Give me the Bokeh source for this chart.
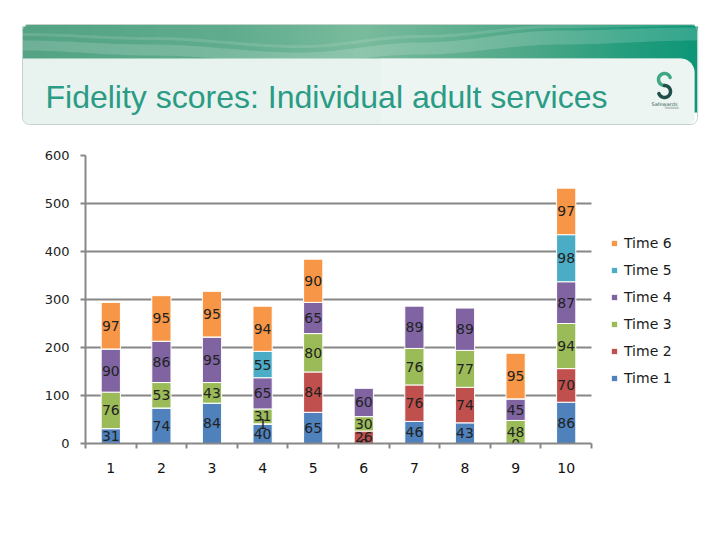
import numpy as np
from bokeh.plotting import figure
from bokeh.models import Range1d, FixedTicker, Legend, LegendItem, ColumnDataSource
from bokeh.core.properties import value
from bokeh.embed import file_html
from bokeh.resources import INLINE

# ---------------- data ----------------
categories = ["1", "2", "3", "4", "5", "6", "7", "8", "9", "10"]
series_names = ["Time 1", "Time 2", "Time 3", "Time 4", "Time 5", "Time 6"]
time1 = [31, 74, 84, 40, 65, 0, 46, 43, 0, 86]
time2 = [None, None, None, 1, 84, 26, 76, 74, None, 70]
time3 = [76, 53, 43, 31, 80, 30, 76, 77, 48, 94]
time4 = [90, 86, 95, 65, 65, 60, 89, 89, 45, 87]
time5 = [None, None, None, 55, None, None, None, None, None, 98]
time6 = [97, 95, 95, 94, 90, None, None, None, 95, 97]
y_ticks = [0, 100, 200, 300, 400, 500, 600]
colors = ["#4F81BD", "#C0504D", "#9BBB59", "#8064A2", "#4BACC6", "#F79646"]
title_text = "Fidelity scores: Individual adult services"

series = [time1, time2, time3, time4, time5, time6]

W = 712
HH = 135
# ---------------- header ----------------
h = figure(width=W, height=HH, x_range=Range1d(0, W), y_range=Range1d(HH, 0),
           output_backend="svg", toolbar_location=None, min_border=0)
h.axis.visible = False
h.grid.visible = False
h.outline_line_color = None
h.background_fill_color = "white"
h.border_fill_color = "white"


def rrect(x0, y0, x1, y1, rtl, rtr, rbr, rbl, n=12):
    xs, ys = [], []
    def corner(cx, cy, r, a0, a1):
        for t in np.linspace(np.radians(a0), np.radians(a1), n):
            xs.append(cx + r * np.cos(t))
            ys.append(cy + r * np.sin(t))
    corner(x0 + rtl, y0 + rtl, rtl, 180, 270)
    corner(x1 - rtr, y0 + rtr, rtr, 270, 360)
    corner(x1 - rbr, y1 - rbr, rbr, 0, 90)
    corner(x0 + rbl, y1 - rbl, rbl, 90, 180)
    return xs, ys


BX0, BY0, BX1, BY1, BR = 22, 24, 697, 124, 6
stops_t = [0.0, 0.3, 0.5, 0.75, 0.88, 1.0]
stops_c = [(84, 163, 133), (96, 172, 142), (122, 187, 157), (78, 168, 136), (40, 158, 126), (12, 150, 120)]
step = 3
lefts = np.arange(BX0, BX1, step)
qc, ql, qr, qt, qb = [], [], [], [], []
for xl in lefts:
    xr = min(xl + step, BX1)
    t = (xl - BX0) / (BX1 - BX0)
    rgb = [int(np.interp(t, stops_t, [c[i] for c in stops_c])) for i in range(3)]
    xm = (xl + xr) / 2
    top = BY0
    if xm < BX0 + BR:
        dx = BX0 + BR - xm
        top = BY0 + BR - np.sqrt(max(BR * BR - dx * dx, 0))
    if xm > BX1 - BR:
        dx = xm - (BX1 - BR)
        top = BY0 + BR - np.sqrt(max(BR * BR - dx * dx, 0))
    ql.append(xl); qr.append(xr + 0.6); qt.append(top); qb.append(112)
    qc.append("#%02x%02x%02x" % tuple(rgb))
h.quad(left=ql, right=qr, top=qt, bottom=qb, fill_color=qc, line_color=None)

wx = np.linspace(BX0, BX1, 120)
up_x = [22, 150, 300, 420, 560, 697]
up_y = [40, 44, 52, 42, 30, 27]
lo_y = [50, 55, 62, 54, 44, 40]


def smooth(xp, yp, x):
    out = np.zeros_like(x)
    for i, xv in enumerate(x):
        j = min(np.searchsorted(xp, xv) - 1, len(xp) - 2)
        j = max(j, 0)
        u = (xv - xp[j]) / (xp[j + 1] - xp[j])
        u = (1 - np.cos(np.pi * u)) / 2
        out[i] = yp[j] * (1 - u) + yp[j + 1] * u
    return out


wu = smooth(up_x, up_y, wx)
wl = smooth(up_x, lo_y, wx)
h.patch(list(wx) + list(wx[::-1]), list(wu) + list(wl[::-1]),
        fill_color="white", fill_alpha=0.16, line_color=None)
h.line(list(wx), list(smooth(up_x, [34, 38, 46, 36, 26, 24], wx)),
       line_color="white", line_alpha=0.12, line_width=3)

px, py = rrect(BX0, 58, 694, BY1, 0.01, 14, 7, 7)
h.patch(px, py, fill_color="#E8F3EF", line_color=None)
px2, py2 = rrect(380, 58, 694, BY1, 0.01, 14, 7, 0.01)
h.patch(px2, py2, fill_color="#EEF7F3", fill_alpha=0.6, line_color=None)

ox, oy = rrect(BX0, BY0, BX1, BY1, BR, BR, 7, 7)
h.patch(ox, oy, fill_color=None, line_color="#C3D1CB", line_width=1)

h.text(x=[45], y=[96], text=[title_text], text_font=value("Liberation Sans"),
       text_font_size="32px", text_color="#2A9B84", text_baseline="alphabetic",
       text_align="left")

cx, r = 664.0, 6.0
t1 = np.radians(np.linspace(20, 270, 40))
h.line(cx + r * np.cos(t1), 79.0 - r * np.sin(t1), line_color="#3FA783", line_width=3.5, line_cap="round")
t2 = np.radians(np.linspace(90, -160, 40))
h.line(cx + r * np.cos(t2), 91.0 - r * np.sin(t2), line_color="#1F4F48", line_width=3.5, line_cap="round")
h.text(x=[664], y=[103], text=["Safewards"], text_font=value("DejaVu Sans"),
       text_font_size="5px", text_color="#3B5F58", text_align="center", text_baseline="middle")
h.text(x=[671], y=[107], text=["TRAINING"], text_font=value("DejaVu Sans"),
       text_font_size="3px", text_color="#6B8580", text_align="center", text_baseline="middle")

# ---------------- chart ----------------
PH = 395
FRAME_L, FRAME_R = 85, 591            # pixel extent of the category area
n = len(categories)
unit = (FRAME_R - FRAME_L) / n        # pixels per category
x_start, x_data_end = 0.5, n + 0.5
x_end = x_data_end + (W - FRAME_R) / unit   # extra room on the right for the legend

p = figure(width=W, height=PH, x_range=Range1d(x_start, x_end), y_range=Range1d(0, 600),
           output_backend="svg", toolbar_location=None,
           min_border_left=FRAME_L, min_border_right=0, min_border_top=155 - HH,
           min_border_bottom=HH + PH - 443)
p.outline_line_color = None
p.background_fill_color = "white"
p.border_fill_color = "white"

gray = "#878787"
p.xgrid.visible = False
p.ygrid.ticker = FixedTicker(ticks=y_ticks)
p.ygrid.grid_line_color = gray
p.ygrid.grid_line_width = 2

# hide the grid to the right of the last category (legend area)
p.quad(left=[x_data_end], right=[x_end + 1], bottom=[-20], top=[620],
       fill_color="white", line_color=None)

xs = list(range(1, n + 1))
data = {"x": xs}
for name, vals in zip(series_names, series):
    data[name] = [v if v is not None else 0 for v in vals]
src = ColumnDataSource(data)
renderers = p.vbar_stack(series_names, x="x", width=0.38, source=src,
                         fill_color=colors, line_color="white", line_width=1)

lx, ly, lt = [], [], []
bottoms = np.zeros(n)
for vals in series:
    for i, v in enumerate(vals):
        vv = v if v is not None else 0
        if v is not None:
            lx.append(xs[i]); ly.append(bottoms[i] + vv / 2); lt.append(str(v))
        bottoms[i] += vv
p.text(x=lx, y=ly, text=lt, text_font=value("DejaVu Sans"), text_font_size="14px",
       text_color="#222222", text_align="center", text_baseline="middle")

p.yaxis.ticker = FixedTicker(ticks=y_ticks, minor_ticks=[])
p.yaxis.axis_line_color = gray
p.yaxis.axis_line_width = 2
p.yaxis.major_tick_line_color = gray
p.yaxis.major_tick_line_width = 2
p.yaxis.major_tick_out = 5
p.yaxis.major_tick_in = 0
p.yaxis.major_label_standoff = 11
p.yaxis.major_label_text_font = "DejaVu Sans"
p.yaxis.major_label_text_font_size = "13px"
p.yaxis.major_label_text_color = "#222222"

p.xaxis.bounds = (x_start, x_data_end)
p.xaxis.ticker = FixedTicker(ticks=xs, minor_ticks=[x - 0.5 for x in xs] + [xs[-1] + 0.5])
p.xaxis.major_label_overrides = {x: c for x, c in zip(xs, categories)}
p.xaxis.axis_line_color = gray
p.xaxis.axis_line_width = 2
p.xaxis.major_tick_line_color = None
p.xaxis.major_tick_out = 0
p.xaxis.major_tick_in = 0
p.xaxis.minor_tick_line_color = gray
p.xaxis.minor_tick_line_width = 2
p.xaxis.minor_tick_out = 5
p.xaxis.minor_tick_in = 0
p.xaxis.major_label_standoff = 14
p.xaxis.major_label_text_font = "DejaVu Sans"
p.xaxis.major_label_text_font_size = "14px"
p.xaxis.major_label_text_color = "#111111"

items = [LegendItem(label=nm, renderers=[r]) for nm, r in zip(series_names, renderers)][::-1]
legend = Legend(items=items, location=(525, 55), padding=0, margin=0, spacing=7,
                label_height=20, glyph_width=8, glyph_height=8, label_standoff=6,
                border_line_color=None, background_fill_alpha=0,
                label_text_font="DejaVu Sans", label_text_font_size="14px",
                label_text_color="#1a1a1a", label_text_baseline="middle")
p.add_layout(legend, "center")

open("out.html", "w").write(file_html([h, p], INLINE))
